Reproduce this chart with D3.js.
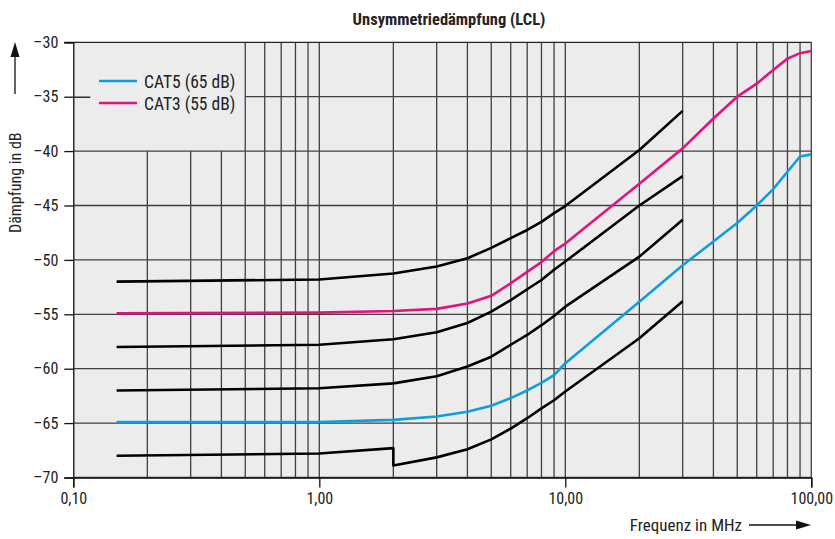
<!DOCTYPE html>
<html>
<head>
<meta charset="utf-8">
<script src="https://cdn.jsdelivr.net/npm/d3@7/dist/d3.min.js"></script>
<style>
  html, body { margin: 0; padding: 0; background: #fff; }
  svg { display: block; }
  text { font-family: "Liberation Sans Narrow", "Roboto Condensed", "Roboto", sans-serif; fill: #222; }
</style>
</head>
<body>
<svg id="chart" width="835" height="539"></svg>
<script>
// ---- data ----
const title = "Unsymmetriedämpfung (LCL)";
const xLabel = "Frequenz in MHz";
const yLabel = "Dämpfung in dB";
const xTickValues = [0.1, 1, 10, 100];
const xTickLabels = ["0,10", "1,00", "10,00", "100,00"];
const yTickValues = [-30, -35, -40, -45, -50, -55, -60, -65, -70];
const yTickLabels = ["\u201330", "\u201335", "\u201340", "\u201345", "\u201350", "\u201355", "\u201360", "\u201365", "\u201370"];

const freqShort = [0.15, 1, 2, 3, 4, 5, 6, 7, 8, 9, 10, 20, 30];
const freqLong  = [0.15, 1, 2, 3, 4, 5, 6, 7, 8, 9, 10, 20, 30, 40, 50, 60, 70, 80, 90, 100];

const black1 = [-52.0, -51.8, -51.25, -50.6, -49.85, -48.9, -48.0, -47.25, -46.5, -45.7, -45.05, -39.9, -36.3];
const black2 = [-58.0, -57.8, -57.3, -56.65, -55.8, -54.75, -53.7, -52.7, -51.85, -50.9, -50.15, -45.0, -42.3];
const black3 = [-62.0, -61.8, -61.35, -60.7, -59.8, -58.9, -57.8, -56.9, -56.0, -55.15, -54.3, -49.7, -46.3];
// bottom line has a step at 2 MHz
const black4Freq = [0.15, 1, 2, 2, 3, 4, 5, 6, 7, 8, 9, 10, 20, 30];
const black4 = [-68.0, -67.8, -67.3, -68.9, -68.15, -67.4, -66.5, -65.5, -64.55, -63.65, -62.9, -62.1, -57.2, -53.8];

const cat3 = [-54.9, -54.85, -54.7, -54.5, -54.0, -53.3, -52.15, -51.1, -50.2, -49.2, -48.5, -43.0, -39.75, -37.0, -35.0, -33.8, -32.55, -31.5, -31.0, -30.8];
const cat5 = [-64.9, -64.9, -64.7, -64.4, -63.95, -63.4, -62.7, -62.0, -61.3, -60.6, -59.5, -53.85, -50.5, -48.3, -46.6, -45.0, -43.5, -41.9, -40.5, -40.3];

const legendNames = ["CAT5 (65 dB)", "CAT3 (55 dB)"];
const legendColors = ["#0c9fdc", "#e2127f"];

// grid definitions
const vGridShort = [0.2, 0.3, 0.4];            // from -40 down
const vGridFull = [0.5, 0.6, 0.7, 0.8, 0.9, 1, 2, 3, 4, 5, 6, 7, 8, 9, 10, 20, 30, 40, 50, 60, 70, 80, 90, 100];
const hGridFull = [-40, -45, -50, -55, -60, -65, -70];
const hGridPartial = [-35];                    // from 0.5 MHz to the right

// ---- layout ----
const FONT = '"Liberation Sans Narrow", "Roboto Condensed", Roboto, sans-serif';
const svg = d3.select("#chart");
const m = { left: 73.3, right: 811.3, top: 42.3, bottom: 477.5 };
const x = d3.scaleLog().domain([0.1, 100]).range([m.left, m.right]);
const y = d3.scaleLinear().domain([-70, -30]).range([m.bottom, m.top]);

// background
svg.append("rect")
  .attr("x", x(0.1)).attr("y", y(-30))
  .attr("width", x(100) - x(0.1)).attr("height", y(-70) - y(-30))
  .attr("fill", "#ececec");

const grid = svg.append("g").attr("stroke", "#404040").attr("stroke-width", 1.3).attr("fill", "none");
grid.selectAll(".vs").data(vGridShort).join("line")
  .attr("x1", d => x(d)).attr("x2", d => x(d))
  .attr("y1", y(-40)).attr("y2", y(-70));
grid.selectAll(".vf").data(vGridFull).join("line")
  .attr("x1", d => x(d)).attr("x2", d => x(d))
  .attr("y1", y(-30)).attr("y2", y(-70));
grid.selectAll(".hf").data(hGridFull).join("line")
  .attr("x1", x(0.1)).attr("x2", x(100))
  .attr("y1", d => y(d)).attr("y2", d => y(d));
grid.selectAll(".hp").data(hGridPartial).join("line")
  .attr("x1", x(0.5)).attr("x2", x(100))
  .attr("y1", d => y(d)).attr("y2", d => y(d));

// top border line
svg.append("line").attr("x1", x(0.1) - 9).attr("x2", x(100))
  .attr("y1", y(-30)).attr("y2", y(-30)).attr("stroke", "#222").attr("stroke-width", 1.3);

// y axis
const yAxis = d3.axisLeft(y).tickValues(yTickValues)
  .tickFormat((d, i) => yTickLabels[i]).tickSize(9).tickPadding(6);
const gy = svg.append("g").attr("transform", `translate(${x(0.1)},0)`).call(yAxis);
gy.select(".domain").attr("stroke", "#111").attr("stroke-width", 1.3);
gy.selectAll(".tick line").attr("stroke", "#111").attr("stroke-width", 1.3)
  .attr("x2", d => d === -35 ? 17 : -9)
  .attr("x1", d => d === -35 ? -9 : 0);
gy.selectAll(".tick text").attr("font-size", 16).attr("fill", "#222").style("font-family", FONT);

// x axis
const xAxis = d3.axisBottom(x).tickValues(xTickValues)
  .tickFormat((d, i) => xTickLabels[i]).tickSize(10).tickPadding(5);
const gx = svg.append("g").attr("transform", `translate(0,${y(-70)})`).call(xAxis);
gx.select(".domain").attr("stroke", "#111").attr("stroke-width", 1.3);
gx.selectAll(".tick line").attr("stroke", "#111").attr("stroke-width", 1.3);
gx.selectAll(".tick text").attr("font-size", 16).attr("fill", "#222").style("font-family", FONT);

// series
const line = d3.line().x(d => x(d[0])).y(d => y(d[1]));
const zip = (a, b) => a.map((v, i) => [v, b[i]]);
const series = [
  { pts: zip(freqShort, black1), color: "#000" },
  { pts: zip(freqShort, black2), color: "#000" },
  { pts: zip(freqShort, black3), color: "#000" },
  { pts: zip(black4Freq, black4), color: "#000" },
  { pts: zip(freqLong, cat3), color: legendColors[1] },
  { pts: zip(freqLong, cat5), color: legendColors[0] }
];
svg.append("g").selectAll("path").data(series).join("path")
  .attr("d", d => line(d.pts))
  .attr("fill", "none")
  .attr("stroke", d => d.color)
  .attr("stroke-width", 2.6)
  .attr("stroke-linejoin", "round");

// legend
const lg = svg.append("g").attr("transform", "translate(99,81)");
legendNames.forEach((name, i) => {
  lg.append("line").attr("x1", 0).attr("x2", 38).attr("y1", i * 22).attr("y2", i * 22)
    .attr("stroke", legendColors[i]).attr("stroke-width", 2.6);
  lg.append("text").attr("x", 45).attr("y", i * 22 + 6.5)
    .attr("font-size", 17.5).text(name);
});

// title
svg.append("text").attr("x", 449).attr("y", 25).attr("text-anchor", "middle")
  .attr("font-size", 16.5).attr("font-weight", "bold").attr("fill", "#111").text(title);

// x label with arrow
svg.append("text").attr("x", 742).attr("y", 531).attr("text-anchor", "end")
  .attr("font-size", 17).text(xLabel);
svg.append("line").attr("x1", 749).attr("x2", 798).attr("y1", 525).attr("y2", 525)
  .attr("stroke", "#111").attr("stroke-width", 1.3);
svg.append("path").attr("d", "M811,525 L796,520.5 L796,529.5 Z").attr("fill", "#111");

// y label with arrow
svg.append("text").attr("transform", "translate(21,233) rotate(-90)")
  .attr("text-anchor", "start").attr("font-size", 16).text(yLabel);
svg.append("line").attr("x1", 15).attr("x2", 15).attr("y1", 94).attr("y2", 56)
  .attr("stroke", "#111").attr("stroke-width", 1.3);
svg.append("path").attr("d", "M15,42 L10.5,57 L19.5,57 Z").attr("fill", "#111");
</script>
</body>
</html>
